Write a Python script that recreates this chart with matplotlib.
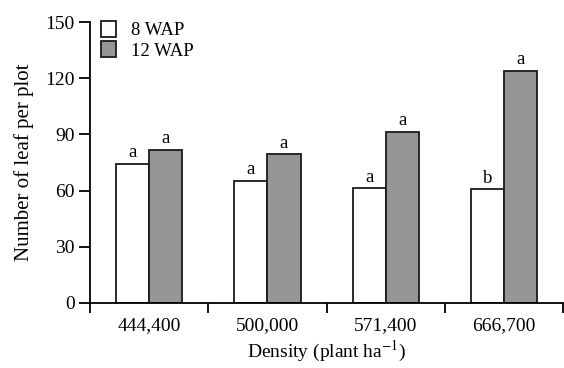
import numpy as np
import matplotlib.pyplot as plt

plt.rcParams["font.family"] = ["Liberation Serif", "DejaVu Serif"]
plt.rcParams["mathtext.fontset"] = "stix"

densities = ["444,400", "500,000", "571,400", "666,700"]
wap8 = [74.3, 65.0, 61.1, 60.6]
wap12 = [81.8, 79.3, 91.4, 124.0]
letters8 = ["a", "a", "a", "b"]
letters12 = ["a", "a", "a", "a"]

fig = plt.figure(figsize=(5.64, 3.68), dpi=100)
ax = fig.add_axes([0.16, 0.177, 0.838, 0.763])

x = np.arange(len(densities))
w = 0.28
ax.bar(x - w / 2, wap8, w, color="white", edgecolor="#1a1a1a", linewidth=1.3, label="8 WAP")
ax.bar(x + w / 2, wap12, w, color="#969696", edgecolor="#1a1a1a", linewidth=1.3, label="12 WAP")

for xi, v, t in zip(x - w / 2, wap8, letters8):
    ax.text(xi, v + 1.5, t, ha="center", va="bottom", fontsize=13.5)
for xi, v, t in zip(x + w / 2, wap12, letters12):
    ax.text(xi, v + 1.5, t, ha="center", va="bottom", fontsize=13.5)

ax.set_xlim(-0.5, 3.5)
ax.set_ylim(0, 150)
ax.set_yticks([0, 30, 60, 90, 120, 150])
ax.set_xticks(x)
ax.set_xticklabels(densities)
ax.set_xticks(np.arange(-0.5, 4.0, 1.0), minor=True)
ax.tick_params(axis="x", which="major", length=0, pad=10, labelsize=14)
ax.tick_params(axis="x", which="minor", length=7, width=1.3, direction="out")
ax.tick_params(axis="y", length=8, width=1.3, labelsize=14, pad=3)

for s in ["top", "right"]:
    ax.spines[s].set_visible(False)
for s in ["left", "bottom"]:
    ax.spines[s].set_linewidth(1.3)

ax.set_ylabel("Number of leaf per plot", fontsize=15, labelpad=8)
ax.set_xlabel("Density (plant ha$^{-1}$)", fontsize=14, labelpad=4)

ax.legend(loc="upper left", bbox_to_anchor=(-0.012, 1.065), frameon=False, fontsize=13.5,
          handlelength=0.8, handleheight=0.95, handletextpad=0.75, labelspacing=0.1,
          borderaxespad=0.5)

fig.savefig("out.png", dpi=100)
